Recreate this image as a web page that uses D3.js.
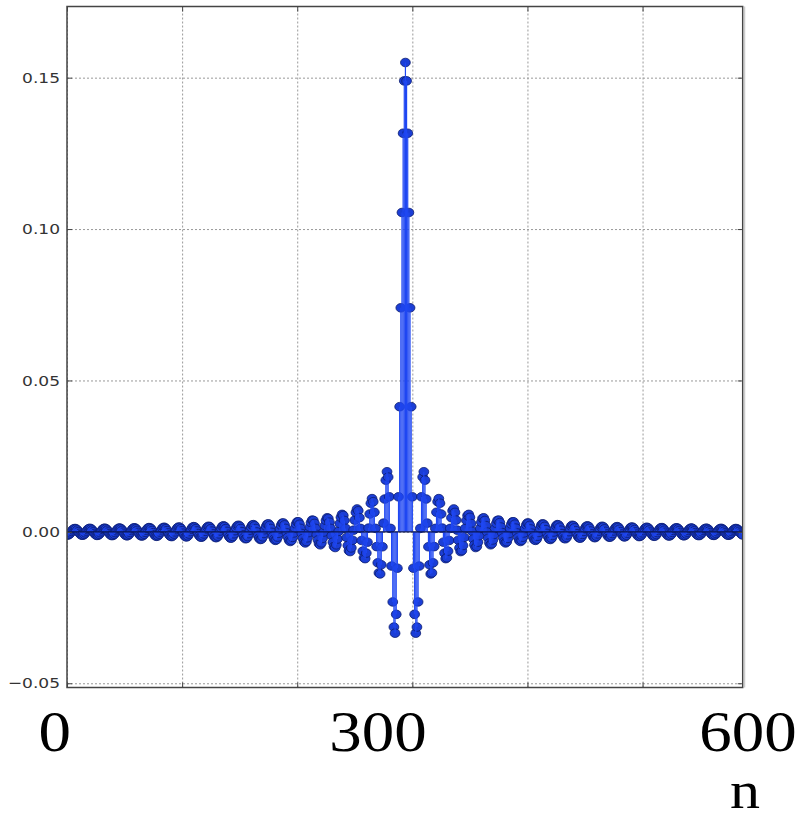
<!DOCTYPE html>
<html>
<head>
<meta charset="utf-8">
<script src="https://cdn.jsdelivr.net/npm/d3@7/dist/d3.min.js"></script>
<style>
  html, body { margin: 0; padding: 0; background: #fff; }
  svg { display: block; }
</style>
</head>
<body>
<svg id="chart" width="800" height="819"></svg>
<script>
// ---- data: impulse response samples h[n], n = 0 .. 587 (peak at n = 294) ----
const hLeft = [
  -.00106,-.00105,-.00079,-.00035,
  .00017,.00066,.001,.00111,.00096,.00058,.00007,-.00046,-.00089,-.00112,
  -.00108,-.00079,-.00032,.00023,.00074,.00107,.00117,.00097,.00056,.00002,
  -.00054,-.00097,-.00118,-.00112,-.00079,-.00028,.0003,.00081,.00114,.00121,
  .00099,.00054,-.00004,-.00061,-.00105,-.00124,-.00115,-.00079,-.00024,.00037,
  .0009,.00122,.00126,.00101,.00051,-.0001,-.0007,-.00114,-.00131,-.00119,
  -.00078,-.00019,.00045,.00099,.00131,.00132,.00102,.00048,-.00017,-.00079,
  -.00123,-.00139,-.00122,-.00077,-.00013,.00054,.00109,.0014,.00138,.00103,
  .00045,-.00025,-.00089,-.00134,-.00147,-.00126,-.00076,-.00007,.00064,.00121,
  .0015,.00144,.00105,.00041,-.00034,-.00101,-.00145,-.00156,-.0013,-.00074,
  0,.00075,.00133,.00161,.00151,.00106,.00036,-.00044,-.00113,-.00158,
  -.00165,-.00135,-.00072,.00008,.00087,.00147,.00173,.00159,.00107,.0003,
  -.00055,-.00128,-.00172,-.00176,-.00139,-.0007,.00017,.00101,.00162,.00186,
  .00167,.00108,.00024,-.00067,-.00144,-.00188,-.00188,-.00144,-.00067,.00028,
  .00117,.0018,.00201,.00176,.00109,.00016,-.00082,-.00162,-.00206,-.00201,
  -.0015,-.00063,.0004,.00135,.002,.00219,.00187,.0011,.00007,-.00099,
  -.00184,-.00227,-.00217,-.00156,-.00058,.00055,.00157,.00224,.00239,.00199,
  .00111,-.00004,-.0012,-.00209,-.00252,-.00235,-.00164,-.00052,.00073,.00183,
  .00252,.00264,.00213,.00112,-.00017,-.00145,-.0024,-.00281,-.00257,-.00172,
  -.00045,.00095,.00215,.00287,.00293,.00231,.00113,-.00034,-.00175,-.00279,
  -.00318,-.00284,-.00183,-.00036,.00122,.00255,.0033,.0033,.00252,.00113,
  -.00055,-.00215,-.00327,-.00365,-.00319,-.00196,-.00024,.00158,.00307,.00387,
  .00378,.0028,.00114,-.00084,-.00267,-.00392,-.00428,-.00364,-.00213,-.00007,
  .00206,.00377,.00464,.00444,.00319,.00114,-.00124,-.0034,-.00483,-.00517,
  -.00429,-.00237,.00017,.00277,.0048,.00577,.00541,.00376,.00115,-.00184,
  -.0045,-.00621,-.00651,-.00529,-.00275,.00056,.00388,.00643,.00757,.00697,
  .00468,.00115,-.00284,-.00636,-.00856,-.00884,-.00702,-.00341,.00125,.0059,
  .00945,.01098,.00996,.00647,.00115,-.00487,-.01022,-.01355,-.01389,-.01088,
  -.00492,.00288,.01084,.01707,.01985,.01809,.01157,.00115,-.01129,-.02314,
  -.03144,-.03346,-.02724,-.012,.01157,.04134,.07399,.10547,.13164,.14894
];
const hPeak = [.155];
const hRight = [
  .14894,.13164,.10547,.07399,.04134,.01157,-.012,-.02724,-.03346,-.03144,
  -.02314,-.01129,.00115,.01157,.01809,.01985,.01707,.01084,.00288,-.00492,
  -.01088,-.01389,-.01355,-.01022,-.00487,.00115,.00647,.00996,.01098,.00945,
  .0059,.00125,-.00341,-.00702,-.00884,-.00856,-.00636,-.00284,.00115,.00468,
  .00697,.00757,.00643,.00388,.00056,-.00275,-.00529,-.00651,-.00621,-.0045,
  -.00184,.00115,.00376,.00541,.00577,.0048,.00277,.00017,-.00237,-.00429,
  -.00517,-.00483,-.0034,-.00124,.00114,.00319,.00444,.00464,.00377,.00206,
  -.00007,-.00213,-.00364,-.00428,-.00392,-.00267,-.00084,.00114,.0028,.00378,
  .00387,.00307,.00158,-.00024,-.00196,-.00319,-.00365,-.00327,-.00215,-.00055,
  .00113,.00252,.0033,.0033,.00255,.00122,-.00036,-.00183,-.00284,-.00318,
  -.00279,-.00175,-.00034,.00113,.00231,.00293,.00287,.00215,.00095,-.00045,
  -.00172,-.00257,-.00281,-.0024,-.00145,-.00017,.00112,.00213,.00264,.00252,
  .00183,.00073,-.00052,-.00164,-.00235,-.00252,-.00209,-.0012,-.00004,.00111,
  .00199,.00239,.00224,.00157,.00055,-.00058,-.00156,-.00217,-.00227,-.00184,
  -.00099,.00007,.0011,.00187,.00219,.002,.00135,.0004,-.00063,-.0015,
  -.00201,-.00206,-.00162,-.00082,.00016,.00109,.00176,.00201,.0018,.00117,
  .00028,-.00067,-.00144,-.00188,-.00188,-.00144,-.00067,.00024,.00108,.00167,
  .00186,.00162,.00101,.00017,-.0007,-.00139,-.00176,-.00172,-.00128,-.00055,
  .0003,.00107,.00159,.00173,.00147,.00087,.00008,-.00072,-.00135,-.00165,
  -.00158,-.00113,-.00044,.00036,.00106,.00151,.00161,.00133,.00075,0,
  -.00074,-.0013,-.00156,-.00145,-.00101,-.00034,.00041,.00105,.00144,.0015,
  .00121,.00064,-.00007,-.00076,-.00126,-.00147,-.00134,-.00089,-.00025,.00045,
  .00103,.00138,.0014,.00109,.00054,-.00013,-.00077,-.00122,-.00139,-.00123,
  -.00079,-.00017,.00048,.00102,.00132,.00131,.00099,.00045,-.00019,-.00078,
  -.00119,-.00131,-.00114,-.0007,-.0001,.00051,.00101,.00126,.00122,.0009,
  .00037,-.00024,-.00079,-.00115,-.00124,-.00105,-.00061,-.00004,.00054,.00099,
  .00121,.00114,.00081,.0003,-.00028,-.00079,-.00112,-.00118,-.00097,-.00054,
  .00002,.00056,.00097,.00117,.00107,.00074,.00023,-.00032,-.00079,-.00108,
  -.00112,-.00089,-.00046,.00007,.00058,.00096,.00111,.001,.00066,.00017,
  -.00035,-.00079,-.00105
];
const values = hLeft.concat(hPeak, hRight);
const nIndex = values.map((v, i) => i);

const yTicks = [-0.05, 0.00, 0.05, 0.10, 0.15];
const xGridTicks = [0, 100, 200, 300, 400, 500];
const xDomain = [0, 587];
const yDomain = [-0.0514, 0.1735];
const xTickLabels = ["0", "300", "600"];
const xAxisTitle = "n";

// ---- layout ----
const L = 67, R = 742.7, T = 6.5, B = 687.5;
const xLabelCenters = [54.7, 378, 748];
const xLabelBaseline = 751;
const titleCenter = 745, titleBaseline = 808, titleSize = 50;

const svg = d3.select("#chart");
const x = d3.scaleLinear().domain(xDomain).range([L, R]);
const y = d3.scaleLinear().domain(yDomain).range([B, T]);

// grid
const grid = svg.append("g").attr("class", "grid");
grid.append("g")
  .attr("transform", `translate(0,${B})`)
  .call(d3.axisBottom(x).tickValues(xGridTicks).tickSize(-(B - T)).tickFormat(""))
  .call(g => g.select(".domain").remove())
  .selectAll("line").attr("stroke", "#999").attr("stroke-width", 1).attr("stroke-dasharray", "2,2");
grid.append("g")
  .attr("transform", `translate(${L},0)`)
  .call(d3.axisLeft(y).tickValues(yTicks).tickSize(-(R - L)).tickFormat(""))
  .call(g => g.select(".domain").remove())
  .selectAll("line").attr("stroke", "#999").attr("stroke-width", 1).attr("stroke-dasharray", "2,2");

// clip
svg.append("clipPath").attr("id", "clip")
  .append("rect").attr("x", L).attr("y", T).attr("width", R - L).attr("height", B - T);
const plot = svg.append("g").attr("clip-path", "url(#clip)");

// markers
plot.append("g").selectAll("ellipse")
  .data(values)
  .join("ellipse")
  .attr("cx", (d, i) => x(nIndex[i]))
  .attr("cy", d => y(d))
  .attr("rx", 4.9)
  .attr("ry", 4.3)
  .attr("fill", "#1b3ed6")
  .attr("stroke", "#0c1d6e")
  .attr("stroke-width", 0.8);

// stems
plot.append("g").selectAll("line")
  .data(values)
  .join("line")
  .attr("x1", (d, i) => x(nIndex[i]))
  .attr("x2", (d, i) => x(nIndex[i]))
  .attr("y1", y(0))
  .attr("y2", d => y(d))
  .attr("stroke", "#1f47f2")
  .attr("stroke-width", 1.2);

// baseline
plot.append("line")
  .attr("x1", L).attr("x2", R)
  .attr("y1", y(0)).attr("y2", y(0))
  .attr("stroke", "#0a1450").attr("stroke-width", 1.2);

// frame
svg.append("rect")
  .attr("x", L).attr("y", T).attr("width", R - L).attr("height", B - T)
  .attr("fill", "none").attr("stroke", "#444").attr("stroke-width", 1.5);
svg.append("line").attr("x1", R + 1.8).attr("x2", R + 1.8).attr("y1", T).attr("y2", B)
  .attr("stroke", "#ccc").attr("stroke-width", 1.5);

// inward ticks (all four sides)
function styleTicks(g) {
  g.select(".domain").remove();
  g.selectAll("line").attr("stroke", "#444").attr("stroke-width", 1);
}
svg.append("g").attr("transform", `translate(0,${B})`)
  .call(d3.axisBottom(x).tickValues(xGridTicks).tickSize(-5).tickFormat("")).call(styleTicks);
svg.append("g").attr("transform", `translate(0,${T})`)
  .call(d3.axisTop(x).tickValues(xGridTicks).tickSize(-5).tickFormat("")).call(styleTicks);
svg.append("g").attr("transform", `translate(${R},0)`)
  .call(d3.axisRight(y).tickValues(yTicks).tickSize(-5).tickFormat("")).call(styleTicks);

// left axis with labels
const yAxis = svg.append("g").attr("transform", `translate(${L},0)`)
  .call(d3.axisLeft(y).tickValues(yTicks).tickSize(-5).tickPadding(6).tickFormat(d3.format(".2f")));
yAxis.call(styleTicks);
yAxis.selectAll("text")
  .attr("font-family", "DejaVu Sans, sans-serif")
  .attr("font-size", 14.7)
  .attr("fill", "#333")
  .attr("transform", "scale(1.16,1)");

// x tick labels (serif, large)
svg.append("g").selectAll("text")
  .data(xTickLabels)
  .join("text")
  .attr("transform", (d, i) => `translate(${xLabelCenters[i]},${xLabelBaseline}) scale(1.16,1)`)
  .attr("text-anchor", "middle")
  .attr("font-family", "Liberation Serif, serif")
  .attr("font-size", 56)
  .attr("fill", "#000")
  .text(d => d);

svg.append("text")
  .attr("transform", `translate(${titleCenter},${titleBaseline}) scale(1.2,1.05)`)
  .attr("text-anchor", "middle")
  .attr("font-family", "Liberation Serif, serif")
  .attr("font-size", titleSize)
  .attr("fill", "#000")
  .text(xAxisTitle);
</script>
</body>
</html>
